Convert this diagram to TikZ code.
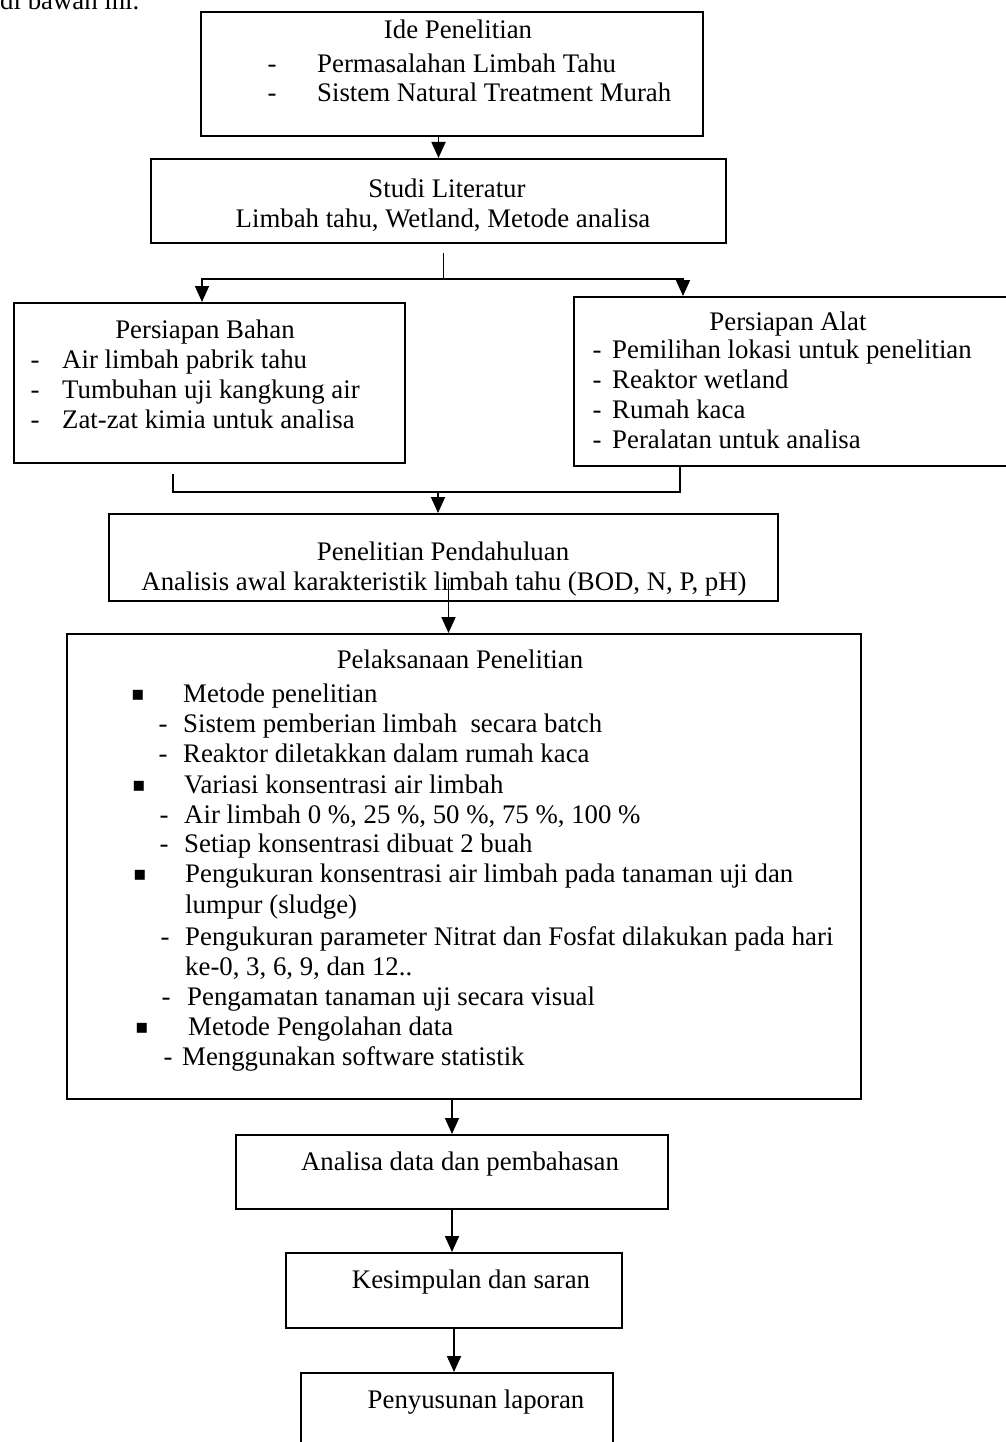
\documentclass[tikz,border=0pt]{standalone}
\usepackage{fontspec}
\setmainfont{Liberation Serif}
\newfontfamily\symfont{DejaVu Sans}
\usetikzlibrary{arrows.meta,calc}
\tikzset{
  box/.style={draw, line width=2pt, rectangle, anchor=north west, inner sep=0pt},
  txt/.style={inner sep=0pt, anchor=base},
  ltxt/.style={inner sep=0pt, anchor=base west},
  conn/.style={line width=1.8pt},
  arr/.style={line width=1.8pt, -{Triangle[width=14pt,length=16pt]}},
}
\newcommand{\bul}{{\symfont\fontsize{20}{20}\selectfont ▪}}
\begin{document}
\begin{tikzpicture}[x=1pt,y=-1pt,font=\fontsize{26.8}{30}\selectfont]
\useasboundingbox (0,0) rectangle (1005,1442);
\fill[white] (0,0) rectangle (1005,1442);

% cut-off text at top (as in the reference)
\node[ltxt] (top) at (0,10) {di bawah ini.};

% boxes
\node[box, minimum width=502pt, minimum height=124pt] (ide) at (200,11) {};
\node[box, minimum width=575pt, minimum height=84pt] (studi) at (150,158) {};
\node[box, minimum width=391pt, minimum height=160pt] (bahan) at (13,302) {};
\node[box, minimum width=442pt, minimum height=169pt] (alat) at (573,296) {};
\node[box, minimum width=669pt, minimum height=87pt] (pend) at (108,513) {};
\node[box, minimum width=794pt, minimum height=465pt] (pelak) at (66,633) {};
\node[box, minimum width=432pt, minimum height=74pt] (analisa) at (235,1134) {};
\node[box, minimum width=336pt, minimum height=75pt] (kes) at (285,1252) {};
\node[box, minimum width=312pt, minimum height=100pt] (peny) at (300,1372) {};

% Ide Penelitian
\node[txt] (ide1) at (458,39) {Ide Penelitian};
\node[txt] (ide2d) at (272,73) {-};
\node[ltxt] (ide2) at (317,73) {Permasalahan Limbah Tahu};
\node[txt] (ide3d) at (272,102) {-};
\node[ltxt] (ide3) at (317,102) {Sistem Natural Treatment Murah};

% Studi Literatur
\node[txt] (st1) at (447,197) {Studi Literatur};
\node[txt] (st2) at (443,227) {Limbah tahu, Wetland, Metode analisa};

% Persiapan Bahan
\node[txt] (ba0) at (205,338) {Persiapan Bahan};
\node[txt] (ba1d) at (35,368) {-};
\node[ltxt] (ba1) at (62,368) {Air limbah pabrik tahu};
\node[txt] (ba2d) at (35,398) {-};
\node[ltxt] (ba2) at (62,398) {Tumbuhan uji kangkung air};
\node[txt] (ba3d) at (35,428) {-};
\node[ltxt] (ba3) at (62,428) {Zat-zat kimia untuk analisa};

% Persiapan Alat
\node[txt] (al0) at (788,330) {Persiapan Alat};
\node[txt] (al1d) at (597,358) {-};
\node[ltxt] (al1) at (612,358) {Pemilihan lokasi untuk penelitian};
\node[txt] (al2d) at (597,388) {-};
\node[ltxt] (al2) at (612,388) {Reaktor wetland};
\node[txt] (al3d) at (597,418) {-};
\node[ltxt] (al3) at (612,418) {Rumah kaca};
\node[txt] (al4d) at (597,448) {-};
\node[ltxt] (al4) at (612,448) {Peralatan untuk analisa};

% Penelitian Pendahuluan
\node[txt] (pe1) at (443,560) {Penelitian Pendahuluan};
\node[txt] (pe2) at (444,590) {Analisis awal karakteristik limbah tahu (BOD, N, P, pH)};

% Pelaksanaan Penelitian
\node[txt] (pl0) at (460,668) {Pelaksanaan Penelitian};
\node[txt] (b1) at (138,700) {\bul};
\node[ltxt] (pl1) at (183,702) {Metode penelitian};
\node[txt] (d1) at (163,732) {-};
\node[ltxt] (pl2) at (183,732) {Sistem pemberian limbah\ \ secara batch};
\node[txt] (d2) at (163,762) {-};
\node[ltxt] (pl3) at (183,762) {Reaktor diletakkan dalam rumah kaca};
\node[txt] (b2) at (139,791) {\bul};
\node[ltxt] (pl4) at (184,793) {Variasi konsentrasi air limbah};
\node[txt] (d3) at (164,823) {-};
\node[ltxt] (pl5) at (184,823) {Air limbah 0 \%, 25 \%, 50 \%, 75 \%, 100 \%};
\node[txt] (d4) at (164,852) {-};
\node[ltxt] (pl6) at (184,852) {Setiap konsentrasi dibuat 2 buah};
\node[txt] (b3) at (140,880) {\bul};
\node[ltxt] (pl7) at (185,882) {Pengukuran konsentrasi air limbah pada tanaman uji dan};
\node[ltxt] (pl8) at (185,913) {lumpur (sludge)};
\node[txt] (d5) at (165,945) {-};
\node[ltxt] (pl9) at (185,945) {Pengukuran parameter Nitrat dan Fosfat dilakukan pada hari};
\node[ltxt] (pl10) at (185,975) {ke-0, 3, 6, 9, dan 12..};
\node[txt] (d6) at (166,1005) {-};
\node[ltxt] (pl11) at (187,1005) {Pengamatan tanaman uji secara visual};
\node[txt] (b4) at (142,1033) {\bul};
\node[ltxt] (pl12) at (188,1035) {Metode Pengolahan data};
\node[txt] (d7) at (168,1065) {-};
\node[ltxt] (pl13) at (182,1065) {Menggunakan software statistik};

% bottom boxes
\node[txt] (an1) at (460,1170) {Analisa data dan pembahasan};
\node[txt] (ke1) at (471,1288) {Kesimpulan dan saran};
\node[txt] (py1) at (476,1408) {Penyusunan laporan};

% connectors
\draw[arr] (ide.south -| studi.north) -- (studi.north);
\coordinate (fork) at ($(studi.south)+(5,35)$);
\draw[conn, shorten <=9pt] (studi.south -| fork) -- (fork);
\draw[arr] (fork) -| ($(bahan.north west)+(189,0)$);
\draw[arr] (fork) -| ($(alat.north west)+(110,0)$);
\coordinate (merge) at (438,492);
\draw[conn, shorten <=10pt] ($(bahan.south west)+(160,0)$) |- (merge);
\draw[conn] ($(alat.south west)+(107,0)$) |- (merge);
\draw[arr] (merge) -- (merge |- pend.north);
\coordinate (p1) at ($(pend.south)+(5,-23)$);
\draw[arr] (p1) -- (p1 |- pelak.north);
\draw[arr] (pelak.south -| analisa.north) -- (analisa.north);
\draw[arr] (analisa.south) -- (analisa.south |- kes.north);
\draw[arr] (kes.south) -- (kes.south |- peny.north);
\end{tikzpicture}
\end{document}
